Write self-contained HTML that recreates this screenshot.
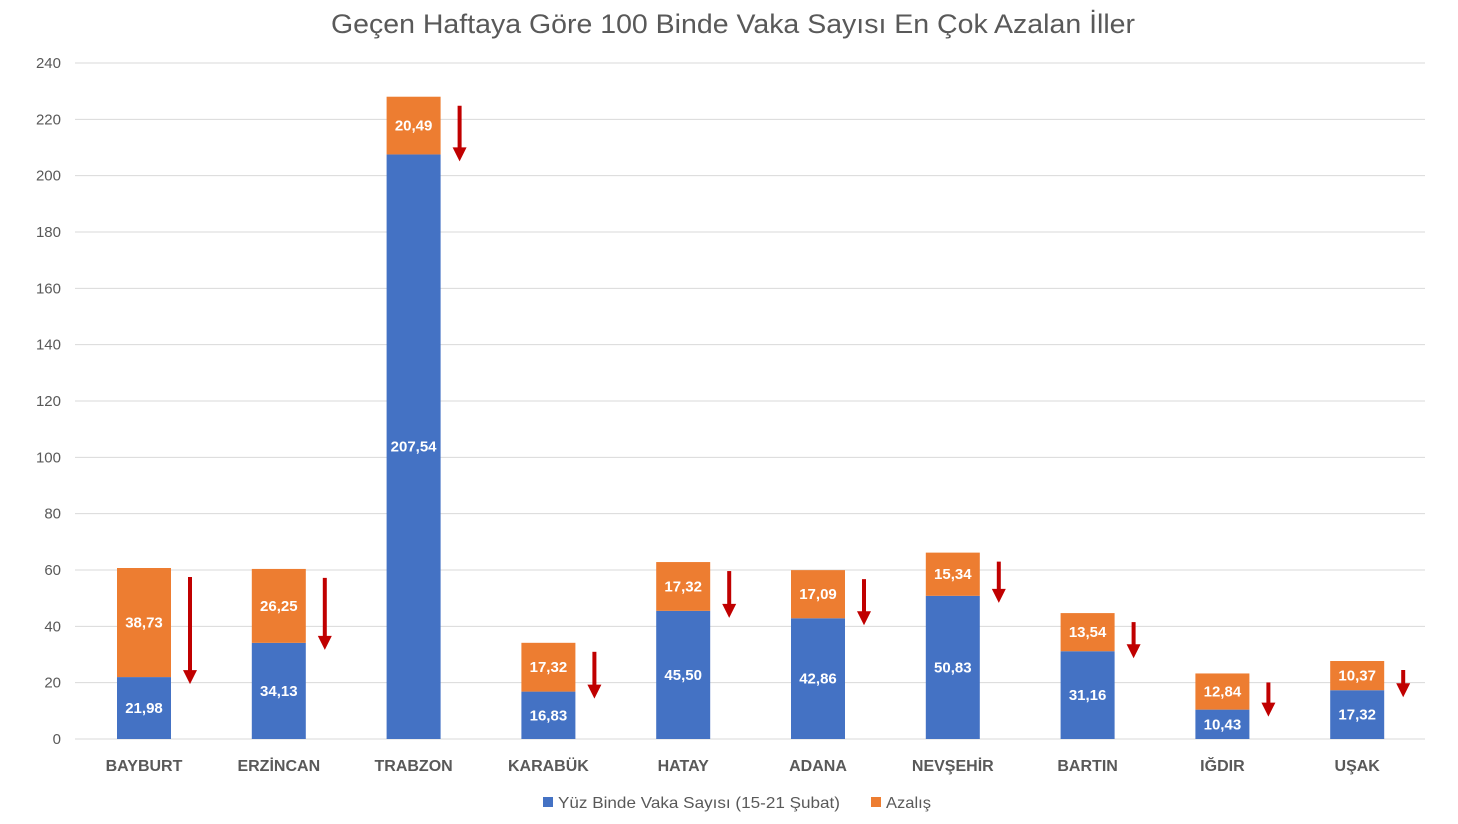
<!DOCTYPE html>
<html><head><meta charset="utf-8"><style>body{margin:0;background:#fff}svg{display:block}</style></head><body>
<svg width="1458" height="824" xmlns="http://www.w3.org/2000/svg" font-family="Liberation Sans, sans-serif">
<rect width="1458" height="824" fill="#fff"/>
<text x="733" y="33" text-anchor="middle" font-size="27" fill="#595959" textLength="804" lengthAdjust="spacingAndGlyphs">Geçen Haftaya Göre 100 Binde Vaka Sayısı En Çok Azalan İller</text>
<g id="grid" stroke="#d9d9d9" stroke-width="1"></g>
<g id="ticks" font-size="15" fill="#595959" text-anchor="end"></g>
<g id="bars"></g>
<g font-size="16" fill="#595959">
<rect x="543" y="797" width="10" height="10" fill="#4472c4"/>
<text x="558" y="808" textLength="282" lengthAdjust="spacingAndGlyphs">Yüz Binde Vaka Sayısı (15-21 Şubat)</text>
<rect x="871" y="797" width="10" height="10" fill="#ed7d31"/>
<text x="886" y="808" textLength="45" lengthAdjust="spacingAndGlyphs">Azalış</text>
</g>
<script>
var ns="http://www.w3.org/2000/svg";
function el(t,a,p,txt){var e=document.createElementNS(ns,t);for(var k in a)e.setAttribute(k,a[k]);if(txt!=null)e.textContent=txt;document.getElementById(p)?document.getElementById(p).appendChild(e):p.appendChild(e);return e;}
var y0=739,s=676/240;
for(var v=0;v<=240;v+=20){var y=y0-v*s;el('line',{x1:75,x2:1425,y1:y,y2:y},'grid');el('text',{x:61,y:y+5},'ticks',v);}
var d=[["BAYBURT",21.98,38.73],["ERZİNCAN",34.13,26.25],["TRABZON",207.54,20.49],["KARABÜK",16.83,17.32],["HATAY",45.50,17.32],["ADANA",42.86,17.09],["NEVŞEHİR",50.83,15.34],["BARTIN",31.16,13.54],["IĞDIR",10.43,12.84],["UŞAK",17.32,10.37]];
var g=document.getElementById('bars');
d.forEach(function(r,i){
 var cx=144+i*134.8,w=54,bt=y0-r[1]*s,ot=bt-r[2]*s;
 el('rect',{x:cx-w/2,y:bt,width:w,height:y0-bt,fill:'#4472c4'},g);
 el('rect',{x:cx-w/2,y:ot,width:w,height:bt-ot,fill:'#ed7d31'},g);
 var f=function(n){return n.toFixed(2).replace('.',',')};
 el('text',{x:cx,y:(bt+y0)/2+5,'text-anchor':'middle','font-size':15,'font-weight':'bold',fill:'#fff'},g,f(r[1]));
 el('text',{x:cx,y:(ot+bt)/2+5,'text-anchor':'middle','font-size':15,'font-weight':'bold',fill:'#fff'},g,f(r[2]));
 el('text',{x:cx,y:771,'text-anchor':'middle','font-size':16,'font-weight':'bold',fill:'#595959'},g,r[0]);
 var ax=cx+46,a1=ot+9,a2=bt+7;
 el('line',{x1:ax,x2:ax,y1:a1,y2:a2-12,stroke:'#c00000','stroke-width':4},g);
 el('polygon',{points:(ax-7)+','+(a2-14)+' '+(ax+7)+','+(a2-14)+' '+ax+','+a2,fill:'#c00000'},g);
});
</script>
</svg>
</body></html>
